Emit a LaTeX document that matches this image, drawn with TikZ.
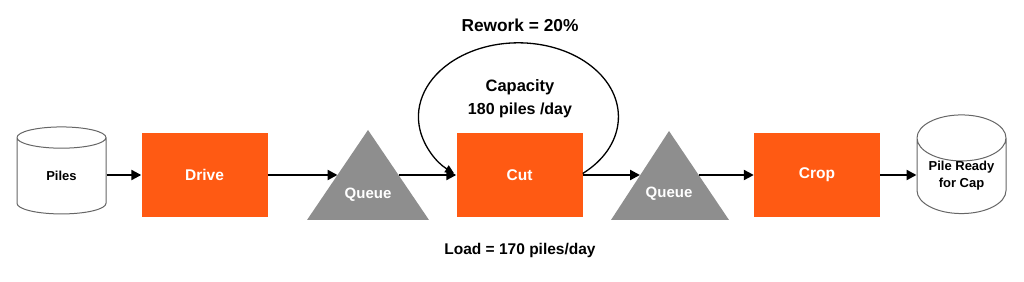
\documentclass[tikz,border=0pt]{standalone}
\usepackage{fontspec}
\setmainfont{Liberation Sans}
\usetikzlibrary{shapes.geometric,arrows.meta,calc}
\definecolor{procorange}{HTML}{FF5A13}
\definecolor{queuegray}{HTML}{8E8E8E}
\begin{document}
\begin{tikzpicture}[x=1pt,y=1pt,
  proc/.style={fill=procorange, minimum width=126pt, minimum height=84pt, inner sep=0pt, text=white, font=\bfseries\fontsize{15.5}{19}\selectfont},
  store/.style={cylinder, shape border rotate=90, aspect=0.7, draw=black!60, line width=1pt, fill=white, minimum width=89pt, minimum height=87pt, inner sep=0pt, font=\bfseries\fontsize{13}{17}\selectfont, align=center},
  flow/.style={-{Triangle[length=10pt,width=10pt]}, line width=2.2pt},
  qlabel/.style={text=white, font=\bfseries\fontsize{15}{18}\selectfont},
  note/.style={font=\bfseries\fontsize{16}{19}\selectfont},
  queuetri/.style={fill=queuegray}]
\useasboundingbox (0,0) rectangle (1024,281);
% process boxes
\node[proc] (drive) at (204.5,106) {Drive};
\node[proc] (cut) at (519.5,106) {Cut};
\node[proc] (crop) at (817,106) {Crop};
% stores
\node[store] (piles) at (61.5,105) {Piles};
\node[store] (ready) at (961.5,105) {Pile Ready\\for Cap};
% queues
\coordinate (q1a) at (368,151);
\coordinate (q1l) at (307,61);
\coordinate (q1r) at (429,61);
\fill[queuetri] (q1a) -- (q1l) -- (q1r) -- cycle;
\node[qlabel] (q1) at (368,86) {Queue};
\coordinate (q2a) at (669,150);
\coordinate (q2l) at (611,61);
\coordinate (q2r) at (729,61);
\fill[queuetri] (q2a) -- (q2l) -- (q2r) -- cycle;
\node[qlabel] (q2) at (669,87) {Queue};
\coordinate (q1in) at ($(q1a)!0.5!(q1l)$);
\coordinate (q1out) at ($(q1a)!0.5!(q1r)$);
\coordinate (q2in) at ($(q2a)!0.5!(q2l)$);
\coordinate (q2out) at ($(q2a)!0.5!(q2r)$);
% flows
\draw[flow] (piles.east |- drive.west) -- (drive.west);
\draw[flow] (drive.east) -- (q1in |- drive.east);
\draw[flow] (q1out |- drive.east) -- (cut.west);
\draw[flow] (cut.east) -- (q2in |- cut.east);
\draw[flow] (q2out |- crop.west) -- (crop.west);
\draw[flow] (crop.east) -- (crop.east -| ready.west);
% rework loop
\draw[line width=1.3pt, -{Triangle[length=9pt,width=8pt]}] ([yshift=1.5pt]cut.east) arc[start angle=-50, end angle=230, x radius=100pt, y radius=74pt];
% labels
\node[font=\bfseries\fontsize{16.5}{20}\selectfont] (capacity) at (520,194) {Capacity};
\node[note] (caprate) at (520,171) {180 piles /day};
\node[font=\bfseries\fontsize{17.3}{20}\selectfont] (rework) at (520,256) {Rework = 20\%};
\node[font=\bfseries\fontsize{15.5}{18}\selectfont] (load) at (520,31) {Load = 170 piles/day};
\end{tikzpicture}
\end{document}
